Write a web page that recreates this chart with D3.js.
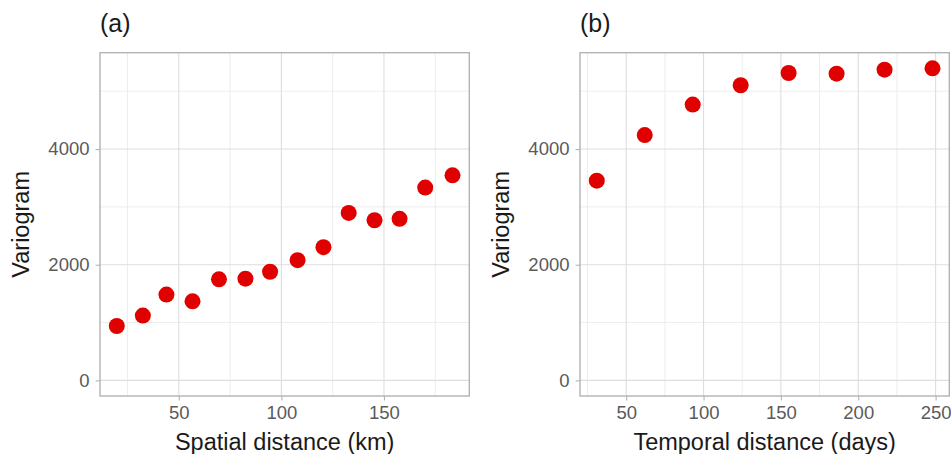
<!DOCTYPE html>
<html>
<head>
<meta charset="utf-8">
<script src="https://cdn.jsdelivr.net/npm/d3@7"></script>
<style>
  body { margin: 0; background: #fff; }
  text { font-family: "Liberation Sans", Arial, sans-serif; }
</style>
</head>
<body>
<div class="canvas"></div>
<script>
// data
const spatialDist = [19.8, 32.5, 44.0, 56.7, 69.6, 82.5, 94.5, 107.9, 120.5, 132.8, 145.4, 157.6, 170.1, 183.4];
const spatialVario = [941, 1121, 1483, 1367, 1747, 1759, 1879, 2079, 2303, 2896, 2769, 2793, 3333, 3545];
const temporalDist = [31, 62, 93, 124, 155, 186, 217, 248];
const temporalVario = [3453, 4241, 4769, 5103, 5315, 5303, 5372, 5396];

const yTicks = [0, 2000, 4000];
const yMinor = [1000, 3000, 5000];
const xTicksA = [50, 100, 150];
const xMinorA = [25, 75, 125, 175];
const xTicksB = [50, 100, 150, 200, 250];
const xMinorB = [25, 75, 125, 175, 225];

const svg = d3.select('.canvas')
  .append('svg')
  .attr('width', 951)
  .attr('height', 454);

const plotTop = 52.7, plotBottom = 396;

// shared y scale, ggplot style 5% expansion
const yMax = d3.max(spatialVario.concat(temporalVario));
const y = d3.scaleLinear()
  .domain([-yMax * 0.05, yMax * 1.05])
  .range([plotBottom, plotTop]);

const expand = ext => {
  const pad = (ext[1] - ext[0]) * 0.05;
  return [ext[0] - pad, ext[1] + pad];
};

const panels = [
  { tag: '(a)', left: 100, right: 469.3, xs: spatialDist, ys: spatialVario,
    ticks: xTicksA, minor: xMinorA, xlab: 'Spatial distance (km)' },
  { tag: '(b)', left: 580, right: 949.3, xs: temporalDist, ys: temporalVario,
    ticks: xTicksB, minor: xMinorB, xlab: 'Temporal distance (days)' }
];

panels.forEach(p => {
  const x = d3.scaleLinear()
    .domain(expand(d3.extent(p.xs)))
    .range([p.left, p.right]);

  const g = svg.append('g');

  // minor grid
  g.selectAll('.vminor').data(p.minor).enter().append('line')
    .attr('x1', d => x(d)).attr('x2', d => x(d))
    .attr('y1', plotTop).attr('y2', plotBottom)
    .attr('stroke', '#EBEBEB').attr('stroke-width', 0.9);
  g.selectAll('.hminor').data(yMinor).enter().append('line')
    .attr('y1', d => y(d)).attr('y2', d => y(d))
    .attr('x1', p.left).attr('x2', p.right)
    .attr('stroke', '#EBEBEB').attr('stroke-width', 0.9);

  // major grid
  g.selectAll('.vmajor').data(p.ticks).enter().append('line')
    .attr('x1', d => x(d)).attr('x2', d => x(d))
    .attr('y1', plotTop).attr('y2', plotBottom)
    .attr('stroke', '#DEDEDE').attr('stroke-width', 1.1);
  g.selectAll('.hmajor').data(yTicks).enter().append('line')
    .attr('y1', d => y(d)).attr('y2', d => y(d))
    .attr('x1', p.left).attr('x2', p.right)
    .attr('stroke', '#DEDEDE').attr('stroke-width', 1.1);

  // points
  g.selectAll('circle').data(p.xs).enter().append('circle')
    .attr('cx', d => x(d))
    .attr('cy', (d, i) => y(p.ys[i]))
    .attr('r', 8)
    .attr('fill', '#E00000');

  // border
  g.append('rect')
    .attr('x', p.left).attr('y', plotTop)
    .attr('width', p.right - p.left).attr('height', plotBottom - plotTop)
    .attr('fill', 'none').attr('stroke', '#B3B3B3').attr('stroke-width', 1.4);

  // axes
  const xAxisGroup = g.append('g')
    .attr('transform', `translate(0, ${plotBottom})`)
    .call(d3.axisBottom(x).tickValues(p.ticks).tickFormat(d3.format('d')).tickSize(4.5).tickPadding(5));
  const yAxisGroup = g.append('g')
    .attr('transform', `translate(${p.left}, 0)`)
    .call(d3.axisLeft(y).tickValues(yTicks).tickFormat(d3.format('d')).tickSize(4.5).tickPadding(6));

  [xAxisGroup, yAxisGroup].forEach(ax => {
    ax.select('.domain').remove();
    ax.selectAll('line').attr('stroke', '#B3B3B3').attr('stroke-width', 1.1);
    ax.selectAll('text')
      .attr('fill', '#5A5A5A')
      .style('font-size', '18.5px');
  });

  // labels
  svg.append('text')
    .attr('x', p.left)
    .attr('y', 32)
    .attr('fill', '#1A1A1A')
    .style('font-size', '25px')
    .text(p.tag);

  svg.append('text')
    .attr('x', (p.left + p.right) / 2)
    .attr('y', 450)
    .attr('text-anchor', 'middle')
    .attr('fill', '#1A1A1A')
    .style('font-size', '23.5px')
    .text(p.xlab);

  svg.append('text')
    .attr('transform', `translate(${p.left - 71}, ${(plotTop + plotBottom) / 2}) rotate(-90)`)
    .attr('text-anchor', 'middle')
    .attr('fill', '#1A1A1A')
    .style('font-size', '23.5px')
    .text('Variogram');
});
</script>
</body>
</html>
